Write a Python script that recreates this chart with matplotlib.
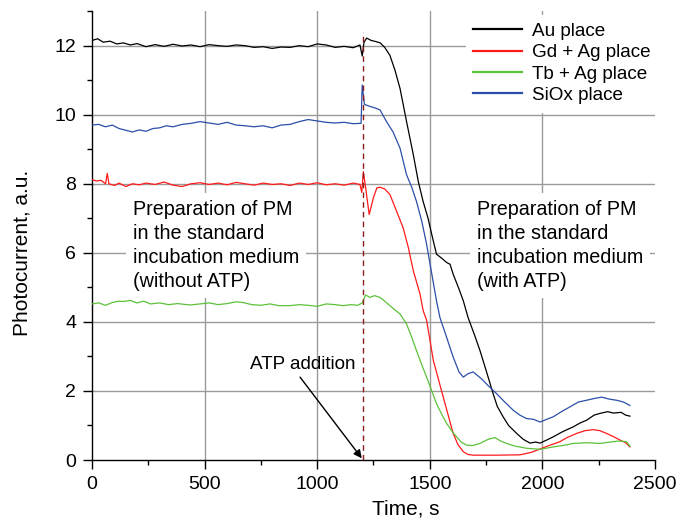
import matplotlib
matplotlib.use("Agg")
import matplotlib.pyplot as plt
from matplotlib.ticker import MultipleLocator

plt.rcParams['font.family'] = ['Liberation Sans', 'DejaVu Sans']

# ---- data ----
t_au = [0, 25, 50, 80, 110, 140, 170, 200, 240, 280, 320, 360, 400, 440, 480, 520, 560, 600, 640, 680,
        720, 760, 800, 840, 880, 920, 960, 1000, 1040, 1080, 1120, 1160, 1190, 1200, 1208, 1220, 1240,
        1260, 1280, 1300, 1323, 1345, 1368, 1397, 1427, 1449, 1470, 1492, 1510, 1530, 1550, 1575, 1590,
        1604, 1630, 1649, 1670, 1700, 1723, 1750, 1781, 1800, 1826, 1850, 1886, 1915, 1945, 1970, 1990,
        2020, 2048, 2090, 2137, 2170, 2196, 2230, 2256, 2290, 2315, 2350, 2370, 2389]
v_au = [12.15, 12.2, 12.1, 12.13, 12.05, 12.08, 12.02, 12.06, 11.97, 12.03, 11.98, 12.04, 11.99, 12.02,
        11.97, 12.03, 12.0, 11.98, 12.02, 12.0, 11.95, 11.97, 11.92, 11.96, 11.95, 12.0, 11.97, 12.05,
        12.02, 11.95, 11.98, 11.94, 12.02, 11.7, 12.1, 12.22, 12.15, 12.12, 12.08, 11.95, 11.72, 11.3,
        10.76, 9.8, 8.84, 8.07, 7.5, 7.01, 6.5, 5.96, 5.86, 5.72, 5.67, 5.38, 4.95, 4.61, 4.13, 3.6,
        3.17, 2.6, 1.93, 1.55, 1.25, 1.0, 0.77, 0.6, 0.49, 0.52, 0.49, 0.58, 0.67, 0.82, 0.96, 1.08,
        1.15, 1.3, 1.35, 1.4, 1.36, 1.38, 1.3, 1.27]

t_gd = [0, 20, 40, 60, 68, 75, 100, 120, 150, 180, 210, 240, 280, 320, 360, 400, 440, 480, 520, 560,
        600, 640, 680, 720, 760, 800, 840, 880, 920, 960, 1000, 1040, 1080, 1120, 1160, 1190, 1198,
        1205, 1215, 1231, 1250, 1265, 1279, 1300, 1323, 1353, 1382, 1405, 1427, 1457, 1471, 1486, 1516,
        1560, 1604, 1625, 1649, 1670, 1693, 1800, 1900, 1950, 1990, 2030, 2078, 2110, 2152, 2190,
        2226, 2255, 2285, 2315, 2344, 2370, 2389]
v_gd = [8.12, 8.08, 8.1, 8.0, 8.3, 8.0, 7.95, 8.02, 7.92, 8.0, 7.97, 8.02, 7.98, 8.05, 7.96, 7.92, 8.0,
        8.03, 7.98, 8.02, 7.97, 8.04, 8.0, 7.96, 8.02, 7.98, 8.0, 7.95, 8.02, 7.98, 8.03, 7.97, 8.0,
        7.96, 8.02, 7.98, 7.75, 8.35, 7.9, 7.11, 7.6, 7.88, 7.9, 7.85, 7.69, 7.2, 6.72, 6.15, 5.48,
        4.8, 4.32, 4.05, 2.88, 1.82, 0.77, 0.45, 0.24, 0.16, 0.14, 0.14, 0.15, 0.22, 0.32, 0.42, 0.53,
        0.65, 0.77, 0.85, 0.88, 0.85, 0.77, 0.68, 0.58, 0.5, 0.38]

t_tb = [0, 30, 60, 90, 120, 139, 170, 200, 230, 260, 300, 340, 380, 435, 480, 520, 560, 600, 640, 671,
        710, 750, 790, 830, 879, 920, 960, 1000, 1040, 1080, 1116, 1150, 1180, 1200, 1215, 1234, 1255,
        1279, 1300, 1323, 1345, 1368, 1397, 1420, 1441, 1465, 1486, 1510, 1530, 1555, 1575, 1600, 1619,
        1640, 1663, 1690, 1723, 1760, 1789, 1815, 1841, 1880, 1930, 1990, 2050, 2100, 2137, 2200, 2256,
        2300, 2340, 2374, 2389]
v_tb = [4.52, 4.55, 4.48, 4.56, 4.6, 4.59, 4.62, 4.55, 4.6, 4.52, 4.55, 4.5, 4.53, 4.49, 4.52, 4.55,
        4.5, 4.53, 4.58, 4.56, 4.5, 4.48, 4.52, 4.47, 4.47, 4.5, 4.48, 4.45, 4.52, 4.5, 4.47, 4.5, 4.48,
        4.55, 4.78, 4.71, 4.76, 4.71, 4.6, 4.47, 4.35, 4.23, 3.94, 3.55, 3.17, 2.75, 2.4, 1.98, 1.63,
        1.3, 1.06, 0.82, 0.67, 0.52, 0.43, 0.42, 0.48, 0.6, 0.65, 0.55, 0.48, 0.4, 0.34, 0.31, 0.38,
        0.43, 0.48, 0.5, 0.48, 0.52, 0.55, 0.53, 0.4]

t_si = [0, 30, 60, 90, 120, 150, 180, 210, 240, 270, 300, 330, 360, 400, 440, 480, 520, 560, 600, 640,
        680, 720, 760, 800, 840, 880, 920, 960, 1000, 1040, 1080, 1120, 1160, 1195, 1200, 1210, 1230,
        1255, 1279, 1308, 1337, 1368, 1397, 1420, 1441, 1465, 1486, 1510, 1530, 1545, 1575, 1604, 1630,
        1649, 1670, 1693, 1730, 1760, 1797, 1830, 1871, 1900, 1930, 1960, 1990, 2020, 2048, 2090, 2123,
        2160, 2196, 2230, 2263, 2300, 2330, 2360, 2389]
v_si = [9.7, 9.72, 9.65, 9.7, 9.6, 9.55, 9.5, 9.56, 9.52, 9.6, 9.62, 9.68, 9.65, 9.72, 9.75, 9.8, 9.76,
        9.72, 9.78, 9.7, 9.68, 9.65, 9.68, 9.62, 9.7, 9.72, 9.8, 9.86, 9.82, 9.78, 9.76, 9.78, 9.74,
        9.75, 10.86, 10.3, 10.25, 10.2, 10.14, 9.8, 9.5, 9.03, 8.26, 7.9, 7.49, 6.9, 6.25, 5.35, 4.61,
        4.13, 3.55, 2.98, 2.55, 2.4, 2.5, 2.55, 2.35, 2.15, 1.92, 1.7, 1.44, 1.3, 1.2, 1.18, 1.1, 1.18,
        1.25, 1.42, 1.54, 1.68, 1.73, 1.78, 1.82, 1.76, 1.73, 1.68, 1.58]

labels = ["Au place", "Gd + Ag place", "Tb + Ag place", "SiOx place"]
colors = ["#000000", "#ff1a1a", "#5cc13a", "#2b4ea8"]

atp_time = 1205
x_ticks = [0, 500, 1000, 1500, 2000, 2500]
y_ticks = [0, 2, 4, 6, 8, 10, 12]

# ---- figure ----
fig = plt.figure(figsize=(6.84, 5.25), dpi=100)
ax = fig.add_axes([0.1345, 0.1238, 0.823, 0.855])

ax.set_xlim(0, 2500)
ax.set_ylim(0, 13)
ax.set_xticks(x_ticks)
ax.set_yticks(y_ticks)
ax.xaxis.set_minor_locator(MultipleLocator(250))
ax.yaxis.set_minor_locator(MultipleLocator(1))

grid_c = "#9a9a9a"
for xv in x_ticks[1:-1]:
    ax.axvline(xv, color=grid_c, lw=1.0, zorder=0)
for yv in y_ticks[1:]:
    ax.axhline(yv, color=grid_c, lw=1.0, zorder=0)

series = [(t_au, v_au), (t_gd, v_gd), (t_tb, v_tb), (t_si, v_si)]
for (tt, vv), lab, c in zip(series, labels, colors):
    ax.plot(tt, vv, color=c, lw=0.9, label=lab, zorder=3)

ax.plot([atp_time, atp_time], [0, 12.4], color="#8b1a1a", lw=1.0,
        linestyle=(0, (4, 3)), zorder=4)

for s in ["top", "right"]:
    ax.spines[s].set_visible(False)
for s in ["left", "bottom"]:
    ax.spines[s].set_linewidth(1.0)
ax.tick_params(which="major", direction="out", length=6.5, width=1.0, labelsize=14, pad=5)
ax.tick_params(which="minor", direction="out", length=3.5, width=1.0)

ax.set_xlabel("Time, s", fontsize=15)
ax.xaxis.set_label_coords(0.558, -0.088)
ax.set_ylabel("Photocurrent, a.u.", fontsize=15)
ax.yaxis.set_label_coords(-0.107, 0.461)

leg = ax.legend(loc="upper right", bbox_to_anchor=(1.023, 1.012), fontsize=13.6, frameon=True,
                handlelength=2.6, handletextpad=0.53, labelspacing=0.22, borderpad=0.4)
leg.get_frame().set_facecolor("white")
leg.get_frame().set_edgecolor("white")
leg.get_frame().set_alpha(1.0)
for line in leg.get_lines():
    line.set_linewidth(1.6)

box = dict(facecolor="white", edgecolor="none", pad=5)
ax.text(181, 5.01, "Preparation of PM\nin the standard\nincubation medium\n(without ATP)",
        fontsize=14.2, va="baseline", ha="left", linespacing=1.33, bbox=box, zorder=2)
ax.text(1711, 5.01, "Preparation of PM\nin the standard\nincubation medium\n(with ATP)",
        fontsize=14.2, va="baseline", ha="left", linespacing=1.33, bbox=box, zorder=2)

ax.text(937, 2.78, "ATP addition", fontsize=13.6, ha="center", va="center", zorder=5)
ax.annotate("", xy=(1198, 0.05), xytext=(924, 2.40),
            arrowprops=dict(arrowstyle="-|>", color="black", lw=1.0, shrinkA=0, shrinkB=0,
                            mutation_scale=12),
            zorder=5)

fig.savefig("out.png", dpi=100)
